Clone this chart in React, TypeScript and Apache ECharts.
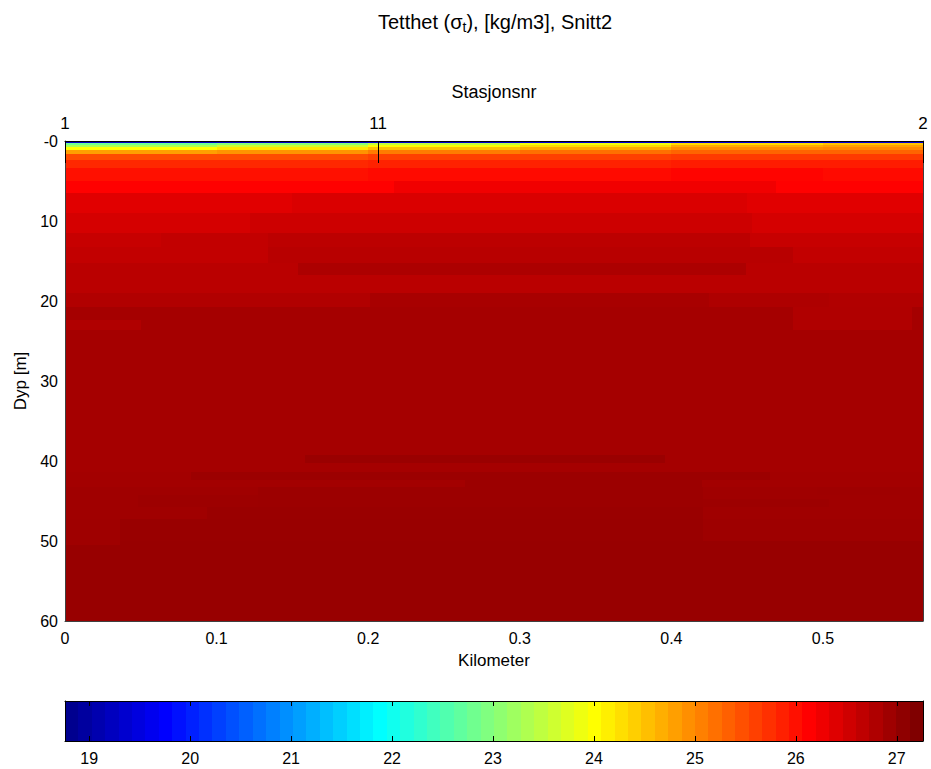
import { useEffect, useRef } from "react";
import * as echarts from "echarts";

// ---------- data ----------
const stationNames = ["1", "11", "2"];
const stationKm = [0, 0.2065, 0.566];
const kmTicks = [0, 0.1, 0.2, 0.3, 0.4, 0.5];
const colorTicks = [19, 20, 21, 22, 23, 24, 25, 26, 27];
const sigmaMin = 18.76;
const sigmaMax = 27.26;
const sectionKm = 0.566;
const maxDepth = 60;

// near-surface layer: columns (km edges) x rows (depth edges)
const surfaceKm = [0, 0.1, 0.2, 0.3, 0.4, 0.5, 0.566];
const surfaceDepth = [0, 0.2, 0.45, 0.75, 1.1, 1.6, 2.4, 3.4, 5];
const surfaceSigma = [
  [19.3, 19.3, 19.4, 19.5, 19.5, 19.5],
  [22.8, 23.0, 23.5, 23.9, 24.3, 24.5],
  [23.3, 23.6, 24.0, 24.3, 24.7, 24.8],
  [24.0, 24.2, 24.5, 24.7, 24.95, 25.0],
  [24.8, 24.9, 25.1, 25.2, 25.3, 25.3],
  [25.5, 25.5, 25.6, 25.6, 25.65, 25.65],
  [25.8, 25.8, 25.85, 25.85, 25.9, 25.9],
  [26.0, 26.0, 26.05, 26.05, 26.1, 26.05],
];

// deeper layers spanning the whole section
const layerDepth = [5, 6.5, 9, 11.5, 13.3, 15.2, 19, 20.7, 41.4, 43.2, 47.2, 50, 60];
const layerSigma = [26.12, 26.38, 26.48, 26.6, 26.64, 26.71, 26.78, 26.88, 26.9, 26.92, 26.94, 26.99];

// local lenses: [km0, km1, depth0, depth1, sigma]
const lenses: number[][] = [
  [0.217, 0.469, 5, 6.5, 26.25],
  [0.15, 0.45, 6.5, 9, 26.44],
  [0.122, 0.453, 9, 11.5, 26.55],
  [0.063, 0.134, 11.5, 13.3, 26.64],
  [0.134, 0.452, 11.5, 13.3, 26.69],
  [0.134, 0.48, 13.3, 15.2, 26.72],
  [0.154, 0.449, 15.2, 16.7, 26.82],
  [0.201, 0.425, 19, 20.7, 26.86],
  [0.425, 0.504, 19, 20.7, 26.81],
  [0, 0.05, 22.4, 23.6, 26.79],
  [0.48, 0.559, 20.7, 23.6, 26.79],
  [0.158, 0.396, 39.2, 40.3, 26.97],
  [0.083, 0.465, 41.4, 42.4, 26.96],
  [0.264, 0.42, 42.4, 43.2, 26.96],
  [0.127, 0.421, 43.2, 45.7, 26.96],
  [0.048, 0.127, 44.2, 45.7, 26.95],
  [0.421, 0.504, 44.8, 45.7, 26.95],
  [0.496, 0.551, 43.2, 44.2, 26.93],
  [0.094, 0.421, 45.7, 47.2, 26.97],
  [0.036, 0.421, 47.2, 50, 26.98],
  [0, 0.036, 47.2, 50.5, 26.93],
];

// ---------- colour map (MATLAB jet, 64 levels) ----------
const nLevels = 64;
const jetU = (k: number) => (k <= 0 ? 0 : k < 16 ? k / 16 : k <= 31 ? 1 : k < 48 ? (48 - k) / 16 : 0);
const toHex = (c: number) => Math.round(Math.max(0, Math.min(1, c)) * 255).toString(16).padStart(2, "0");
const jetAt = (j: number) => "#" + toHex(jetU(j - 24)) + toHex(jetU(j - 8)) + toHex(jetU(j + 8));
const sigmaColor = (v: number) => {
  const f = Math.max(0, Math.min(1, (v - sigmaMin) / (sigmaMax - sigmaMin)));
  return jetAt(0.5 + f * nLevels);
};

const FONT = "'Liberation Sans', Arial, Helvetica, sans-serif";

export default function App() {
  const ref = useRef<HTMLDivElement>(null);
  useEffect(() => {
    if (!ref.current) return;
    const chart = echarts.init(ref.current, undefined, { renderer: "svg" });

    const cells: number[][] = [];
    for (let r = 0; r < surfaceDepth.length - 1; r++) {
      for (let c = 0; c < surfaceKm.length - 1; c++) {
        cells.push([surfaceKm[c], surfaceKm[c + 1], surfaceDepth[r], surfaceDepth[r + 1], surfaceSigma[r][c]]);
      }
    }
    for (let r = 0; r < layerDepth.length - 1; r++) {
      cells.push([0, sectionKm, layerDepth[r], layerDepth[r + 1], layerSigma[r]]);
    }
    lenses.forEach((l) => cells.push(l));

    const bins: number[][] = [];
    const step = (sigmaMax - sigmaMin) / nLevels;
    for (let j = 1; j <= nLevels; j++) {
      bins.push([sigmaMin + (j - 1) * step, sigmaMin + j * step, 0, 1, j]);
    }

    const rectFrom = (api: any) => {
      const p0 = api.coord([api.value(0), api.value(2)]);
      const p1 = api.coord([api.value(1), api.value(3)]);
      const x0 = Math.round(Math.min(p0[0], p1[0]));
      const x1 = Math.round(Math.max(p0[0], p1[0]));
      const y0 = Math.round(Math.min(p0[1], p1[1]));
      const y1 = Math.round(Math.max(p0[1], p1[1]));
      return { x: x0, y: y0, width: Math.max(1, x1 - x0), height: Math.max(1, y1 - y0) };
    };

    const nearestStation = (v: number) => {
      let best = 0;
      stationKm.forEach((k, i) => {
        if (Math.abs(k - v) < Math.abs(stationKm[best] - v)) best = i;
      });
      return stationNames[best];
    };

    const labelStyle = { color: "#000", fontSize: 16, fontFamily: FONT };
    const nameStyle = { color: "#000", fontSize: 17, fontFamily: FONT };

    chart.setOption({
      animation: false,
      backgroundColor: "#fff",
      graphic: [
        {
          type: "text",
          x: 495,
          y: 22,
          style: {
            text: "{a|Tetthet (σ}{s|t}{a|), [kg/m3], Snitt2}",
            align: "center",
            verticalAlign: "middle",
            fill: "#000",
            rich: {
              a: { fontSize: 20, fontFamily: FONT, lineHeight: 24, fill: "#000" },
              s: { fontSize: 14, fontFamily: FONT, lineHeight: 12, verticalAlign: "bottom", fill: "#000" },
            },
          },
        },
      ],
      grid: [
        { left: 65, right: 8, top: 141, bottom: 148, containLabel: false },
        { left: 65, right: 8, top: 701, bottom: 28, containLabel: false },
      ],
      xAxis: [
        {
          type: "value",
          gridIndex: 0,
          position: "bottom",
          min: 0,
          max: sectionKm,
          z: 10,
          axisLine: { show: true, onZero: false, lineStyle: { color: "#404040", width: 1 } },
          axisTick: { show: false },
          splitLine: { show: false },
          axisLabel: {
            ...labelStyle,
            customValues: kmTicks,
            margin: 9,
            formatter: (v: number) => (v === 0 ? "0" : v.toFixed(1)),
          },
          name: "Kilometer",
          nameLocation: "middle",
          nameGap: 31,
          nameTextStyle: nameStyle,
        },
        {
          type: "value",
          gridIndex: 0,
          position: "top",
          min: 0,
          max: sectionKm,
          z: 10,
          axisLine: { show: true, onZero: false, lineStyle: { color: "#000", width: 1 } },
          axisTick: { show: true, inside: true, length: 22, customValues: stationKm, lineStyle: { color: "#000", width: 1 } },
          splitLine: { show: false },
          axisLabel: {
            ...labelStyle,
            fontSize: 17,
            customValues: stationKm,
            margin: 9,
            formatter: (v: number) => nearestStation(v),
          },
          name: "Stasjonsnr",
          nameLocation: "middle",
          nameGap: 40,
          nameTextStyle: { ...nameStyle, fontSize: 18 },
        },
        {
          type: "value",
          gridIndex: 1,
          position: "bottom",
          min: sigmaMin,
          max: sigmaMax,
          z: 10,
          axisLine: { show: true, onZero: false, lineStyle: { color: "#000", width: 1 } },
          axisTick: { show: true, inside: true, length: 5, customValues: colorTicks, lineStyle: { color: "#000" } },
          splitLine: { show: false },
          axisLabel: { ...labelStyle, customValues: colorTicks, margin: 9, formatter: (v: number) => String(v) },
        },
        {
          type: "value",
          gridIndex: 1,
          position: "top",
          min: sigmaMin,
          max: sigmaMax,
          z: 10,
          axisLine: { show: true, onZero: false, lineStyle: { color: "#000", width: 1 } },
          axisTick: { show: true, inside: true, length: 5, customValues: colorTicks, lineStyle: { color: "#000" } },
          splitLine: { show: false },
          axisLabel: { show: false },
        },
      ],
      yAxis: [
        {
          type: "value",
          gridIndex: 0,
          inverse: true,
          min: 0,
          max: maxDepth,
          interval: 10,
          z: 10,
          axisLine: { show: true, onZero: false, lineStyle: { color: "#404040", width: 1 } },
          axisTick: { show: false },
          splitLine: { show: false },
          axisLabel: { ...labelStyle, margin: 7, formatter: (v: number) => (v === 0 ? "-0" : String(v)) },
          name: "Dyp [m]",
          nameLocation: "middle",
          nameGap: 34,
          nameRotate: 90,
          nameTextStyle: nameStyle,
        },
        {
          type: "value",
          gridIndex: 0,
          position: "right",
          inverse: true,
          min: 0,
          max: maxDepth,
          z: 10,
          axisLine: { show: true, onZero: false, lineStyle: { color: "#404040", width: 1 } },
          axisTick: { show: false },
          splitLine: { show: false },
          axisLabel: { show: false },
        },
        {
          type: "value",
          gridIndex: 1,
          min: 0,
          max: 1,
          z: 10,
          axisLine: { show: true, onZero: false, lineStyle: { color: "#000", width: 1 } },
          axisTick: { show: false },
          splitLine: { show: false },
          axisLabel: { show: false },
        },
        {
          type: "value",
          gridIndex: 1,
          position: "right",
          min: 0,
          max: 1,
          z: 10,
          axisLine: { show: true, onZero: false, lineStyle: { color: "#000", width: 1 } },
          axisTick: { show: false },
          splitLine: { show: false },
          axisLabel: { show: false },
        },
      ],
      series: [
        {
          type: "custom",
          xAxisIndex: 0,
          yAxisIndex: 0,
          silent: true,
          clip: true,
          z: 1,
          encode: { x: [0, 1], y: [2, 3] },
          data: cells,
          renderItem: (_p: any, api: any) => ({
            type: "rect",
            shape: rectFrom(api),
            style: { fill: sigmaColor(api.value(4)), stroke: null },
          }),
        },
        {
          type: "custom",
          xAxisIndex: 2,
          yAxisIndex: 2,
          silent: true,
          clip: true,
          z: 1,
          encode: { x: [0, 1], y: [2, 3] },
          data: bins,
          renderItem: (_p: any, api: any) => ({
            type: "rect",
            shape: rectFrom(api),
            style: { fill: jetAt(api.value(4)), stroke: null },
          }),
        },
      ],
    });
    return () => chart.dispose();
  }, []);

  return (
    <div
      ref={ref}
      style={{ position: "fixed", left: 0, top: 0, width: 931, height: 769, background: "#fff" }}
    />
  );
}
